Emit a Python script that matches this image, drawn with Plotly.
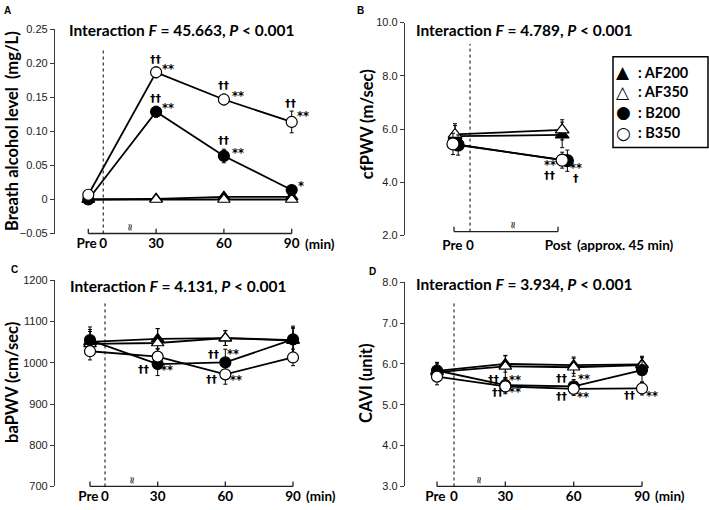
import plotly.graph_objects as go

W, H = 709, 510

# ---------------- data ----------------
SERIES = ["AF200", "AF350", "B200", "B350"]
LEGEND_GLYPHS = ["\u25B2", "\u25B3", "\u25CF", "\u25CB"]

TIME_LABELS = ["Pre", "30", "60", "90"]
TIME_X = [0, 30, 60, 90]
POST_LABELS = ["Pre", "Post"]
POST_X = [0, 1]

F_VALUES = ["45.663", "4.789", "4.131", "3.934"]
P_TEXT = "0.001"

# Panel A: breath alcohol level (mg/L)
A_AF200 = [0.000, 0.001, 0.004, 0.004]
A_AF350 = [0.000, 0.000, 0.000, 0.000]
A_B200 = [0.000, 0.129, 0.064, 0.014]
A_B350 = [0.007, 0.187, 0.147, 0.114]
A_AF200_SD = [0.002, 0.002, 0.003, 0.003]
A_AF350_SD = [0.001, 0.001, 0.001, 0.001]
A_B200_SD = [0.002, 0.008, 0.010, 0.006]
A_B350_SD = [0.003, 0.008, 0.008, 0.016]

# Panel B: cfPWV (m/sec)
B_AF200 = [5.73, 5.78]
B_AF350 = [5.80, 5.97]
B_B200 = [5.40, 4.81]
B_B350 = [5.44, 4.83]
B_AF200_SD = [0.40, 0.48]
B_AF350_SD = [0.40, 0.38]
B_B200_SD = [0.38, 0.40]
B_B350_SD = [0.40, 0.30]

# Panel C: baPWV (cm/sec)
C_AF200 = [1051, 1058, 1060, 1055]
C_AF350 = [1046, 1048, 1060, 1054]
C_B200 = [1055, 997, 1001, 1057]
C_B350 = [1028, 1015, 972, 1013]
C_AF200_SD = [30, 25, 18, 30]
C_AF350_SD = [30, 35, 18, 30]
C_B200_SD = [32, 28, 32, 32]
C_B350_SD = [21, 20, 24, 20]

# Panel D: CAVI (unit)
D_AF200 = [5.83, 6.00, 5.97, 5.99]
D_AF350 = [5.80, 5.94, 5.92, 5.97]
D_B200 = [5.84, 5.48, 5.45, 5.85]
D_B350 = [5.69, 5.45, 5.39, 5.40]
D_AF200_SD = [0.20, 0.20, 0.20, 0.20]
D_AF350_SD = [0.20, 0.27, 0.22, 0.20]
D_B200_SD = [0.20, 0.17, 0.17, 0.30]
D_B350_SD = [0.20, 0.18, 0.16, 0.16]

A_YTICKS = [-0.05, 0, 0.05, 0.10, 0.15, 0.20, 0.25]
A_YTICKTEXT = ["\u22120.05", "0", "0.05", "0.10", "0.15", "0.20", "0.25"]
B_YTICKS = [2, 4, 6, 8, 10]
B_YTICKTEXT = ["2.0", "4.0", "6.0", "8.0", "10.0"]
C_YTICKS = [700, 800, 900, 1000, 1100, 1200]
C_YTICKTEXT = ["700", "800", "900", "1000", "1100", "1200"]
D_YTICKS = [3, 4, 5, 6, 7, 8]
D_YTICKTEXT = ["3.0", "4.0", "5.0", "6.0", "7.0", "8.0"]

Y_TITLES = ["Breath alcohol level  (mg/L)", "cfPWV (m/sec)", "baPWV (cm/sec)", "CAVI (unit)"]

# ---------------- styles / layout (pixels) ----------------
STYLE = {
    "AF200": dict(symbol="triangle-up", fill="black"),
    "AF350": dict(symbol="triangle-up", fill="white"),
    "B200": dict(symbol="circle", fill="black"),
    "B350": dict(symbol="circle", fill="white"),
}
BOLD = "Lato"
TICKFONT = "Liberation Sans"

panels = [
    dict(name="A", ax="", left=55, right=345, top=24, bottom=233, p0=88.3, p1=291.7,
         xvals=TIME_X, xlabels=TIME_LABELS, zero_x=6.6, break_x=18.4, unit="(min)",
         series={"AF200": (A_AF200, A_AF200_SD), "AF350": (A_AF350, A_AF350_SD),
                 "B200": (A_B200, A_B200_SD), "B350": (A_B350, A_B350_SD)},
         yrange=[-0.05, 0.25], yticks=A_YTICKS, yticktext=A_YTICKTEXT,
         title_px=(181, 25), ytitle_px=(12, 128), letter_px=(7, 5), bracket_dy=0, msize=11),
    dict(name="B", ax="2", left=405, right=709, top=17, bottom=235, p0=454, p1=558,
         xvals=POST_X, xlabels=POST_LABELS, zero_x=0.154, break_x=0.564, unit="(approx. 45 min)",
         series={"AF200": (B_AF200, B_AF200_SD), "AF350": (B_AF350, B_AF350_SD),
                 "B200": (B_B200, B_B200_SD), "B350": (B_B350, B_B350_SD)},
         yrange=[2, 10], yticks=B_YTICKS, yticktext=B_YTICKTEXT,
         title_px=(524, 25), ytitle_px=(367, 121), letter_px=(360, 5), bracket_dy=4, msize=12),
    dict(name="C", ax="3", left=55, right=345, top=281, bottom=492, p0=90, p1=293,
         xvals=TIME_X, xlabels=TIME_LABELS, zero_x=6.65, break_x=18.2, unit="(min)",
         series={"AF200": (C_AF200, C_AF200_SD), "AF350": (C_AF350, C_AF350_SD),
                 "B200": (C_B200, C_B200_SD), "B350": (C_B350, C_B350_SD)},
         yrange=[700, 1200], yticks=C_YTICKS, yticktext=C_YTICKTEXT,
         title_px=(178, 287), ytitle_px=(12, 386), letter_px=(15, 270), bracket_dy=0, msize=11),
    dict(name="D", ax="4", left=405, right=709, top=283, bottom=492, p0=437, p1=642,
         xvals=TIME_X, xlabels=TIME_LABELS, zero_x=7.46, break_x=18.4, unit="(min)",
         series={"AF200": (D_AF200, D_AF200_SD), "AF350": (D_AF350, D_AF350_SD),
                 "B200": (D_B200, D_B200_SD), "B350": (D_B350, D_B350_SD)},
         yrange=[3, 8], yticks=D_YTICKS, yticktext=D_YTICKTEXT,
         title_px=(524, 285), ytitle_px=(366, 387), letter_px=(373, 272), bracket_dy=0, msize=11),
]

# small horizontal marker offsets in panel B (fraction of Pre->Post distance)
B_OFFSETS = {"AF200": [0.01, 0.04], "AF350": [0.01, 0.04], "B200": [0.04, 0.09], "B350": [-0.01, 0.04]}

DAG2, DAG1 = "\u2020\u2020", "\u2020"
# significance marks: (panel, series, index, text, dx px, dy px (down +))
SIG = [
    ("A", "B350", 1, DAG2, 0, -13), ("A", "B350", 1, "**", 12, -3),
    ("A", "B350", 2, DAG2, 0, -14), ("A", "B350", 2, "**", 14, -4),
    ("A", "B350", 3, DAG2, -1, -18), ("A", "B350", 3, "**", 11, -6),
    ("A", "B200", 1, DAG2, 0, -13), ("A", "B200", 1, "**", 12, -4),
    ("A", "B200", 2, DAG2, 0, -15), ("A", "B200", 2, "**", 14, -3),
    ("A", "B200", 3, "*", 9, -4),
    ("B", "B200", 1, "**", -17, 4), ("B", "B200", 1, DAG2, -17, 15),
    ("B", "B200", 1, "**", 9, 7), ("B", "B200", 1, DAG1, 9, 18),
    ("C", "B200", 1, DAG2, -14, 5), ("C", "B200", 1, "**", 9, 6),
    ("C", "B200", 2, DAG2, -11, -8), ("C", "B200", 2, "**", 8, -8),
    ("C", "B350", 2, DAG2, -13, 5), ("C", "B350", 2, "**", 11, 6),
    ("D", "B200", 1, DAG2, -11, -6), ("D", "B200", 1, "**", 10, -5),
    ("D", "B350", 1, DAG2, -7, 6), ("D", "B350", 1, "**", 10, 6),
    ("D", "B200", 2, DAG2, -12, -8), ("D", "B200", 2, "**", 10, -7),
    ("D", "B350", 2, DAG2, -12, 8), ("D", "B350", 2, "**", 9, 8),
    ("D", "B350", 3, DAG2, -12, 7), ("D", "B350", 3, "**", 10, 8),
]


def xv(pn, p):
    return (p - pn["p0"]) / (pn["p1"] - pn["p0"]) * (pn["xvals"][-1] - pn["xvals"][0]) + pn["xvals"][0]


fig = go.Figure()
layout = dict(width=W, height=H, margin=dict(l=0, r=0, t=0, b=0),
              paper_bgcolor="white", plot_bgcolor="white", showlegend=False)
shapes, annotations = [], []
pmap = {}

for i, pn in enumerate(panels):
    pmap[pn["name"]] = pn
    xa, ya = "xaxis" + pn["ax"], "yaxis" + pn["ax"]
    xr, yr = "x" + pn["ax"], "y" + pn["ax"]
    layout[xa] = dict(
        domain=[pn["left"] / W, pn["right"] / W], anchor=yr,
        range=[xv(pn, pn["left"]), xv(pn, pn["right"])],
        showline=False, showgrid=False, zeroline=False, ticks="", tickangle=0,
        tickmode="array", tickvals=[pn["xvals"][0], pn["zero_x"]] + pn["xvals"][1:],
        ticktext=[pn["xlabels"][0] + "\u00a0", "0"] + pn["xlabels"][1:],
        tickfont=dict(family=BOLD, size=13.5, color="black", weight="bold"),
        ticklabelstandoff=0,
    )
    layout[ya] = dict(
        domain=[1 - pn["bottom"] / H, 1 - pn["top"] / H], anchor=xr,
        range=pn["yrange"], showline=True, linecolor="#3a3a3a", linewidth=1.3,
        ticks="outside", ticklen=4, tickcolor="#3a3a3a", tickwidth=1.2,
        showgrid=False, zeroline=False, tickmode="array",
        tickvals=pn["yticks"], ticktext=pn["yticktext"],
        tickfont=dict(family=TICKFONT, size=11, color="#222"),
    )
    for s in SERIES:
        vals, sd = pn["series"][s]
        if pn["name"] == "B":
            xs = [x + o for x, o in zip(pn["xvals"], B_OFFSETS[s])]
        else:
            xs = pn["xvals"]
        st = STYLE[s]
        fig.add_trace(go.Scatter(
            x=xs, y=vals, xaxis=xr, yaxis=yr, mode="lines+markers", name=s,
            line=dict(color="black", width=1.8),
            marker=dict(symbol=st["symbol"], size=pn["msize"], color=st["fill"],
                        line=dict(color="black", width=1.2)),
            error_y=dict(type="data", array=sd, color="black", thickness=1, width=2),
            cliponaxis=False,
        ))
    ydom = yr + " domain"
    hpx = pn["bottom"] - pn["top"]
    b0 = pn["bracket_dy"] / hpx
    tick_h = 5 / hpx
    # bracket-style time axis
    shapes.append(dict(type="line", xref=xr, yref=ydom, x0=pn["xvals"][0], x1=pn["xvals"][-1],
                       y0=b0, y1=b0, line=dict(color="#222", width=1.3)))
    for tv in pn["xvals"]:
        shapes.append(dict(type="line", xref=xr, yref=ydom, x0=tv, x1=tv,
                           y0=b0, y1=b0 + tick_h, line=dict(color="#222", width=1.3)))
    # dotted line at time 0
    shapes.append(dict(type="line", xref=xr, yref=ydom, x0=pn["zero_x"], x1=pn["zero_x"],
                       y0=b0, y1=0.9, line=dict(color="black", width=1, dash="dot")))
    # axis break symbol
    annotations.append(dict(xref=xr, yref=ydom, x=pn["break_x"], y=b0,
                            text="\u2248", showarrow=False, textangle=-90,
                            font=dict(family="DejaVu Sans", size=10, color="black")))
    # unit text after last tick label
    annotations.append(dict(xref=xr, yref=ydom, x=pn["xvals"][-1], y=0, xanchor="left",
                            yanchor="middle", xshift=11 if pn["name"] != "B" else 17, yshift=-10,
                            text=pn["unit"], showarrow=False,
                            font=dict(family=BOLD, size=13.5, color="black", weight="bold")))
    tx, ty = pn["title_px"]
    annotations.append(dict(xref="paper", yref="paper", x=tx / W, y=1 - ty / H,
                            xanchor="center", yanchor="middle", showarrow=False,
                            text="Interaction <i>F</i> = %s, <i>P</i> &lt; %s" % (F_VALUES[i], P_TEXT),
                            font=dict(family=BOLD, size=15.5, color="black", weight="bold")))
    yx, yy = pn["ytitle_px"]
    annotations.append(dict(xref="paper", yref="paper", x=yx / W, y=1 - yy / H,
                            xanchor="center", yanchor="middle", showarrow=False, textangle=-90,
                            text=Y_TITLES[i],
                            font=dict(family=BOLD, size=16.5, color="black", weight="bold")))
    lx, ly = pn["letter_px"]
    annotations.append(dict(xref="paper", yref="paper", x=lx / W, y=1 - ly / H,
                            xanchor="center", yanchor="middle", showarrow=False, text=pn["name"],
                            font=dict(family="Liberation Sans", size=10, color="black", weight="bold")))

for pname, s, idx, txt, dx, dy in SIG:
    pn = pmap[pname]
    vals, _ = pn["series"][s]
    x = pn["xvals"][idx]
    if pname == "B":
        x = x + B_OFFSETS[s][idx]
    star = "*" in txt
    annotations.append(dict(xref="x" + pn["ax"], yref="y" + pn["ax"], x=x, y=vals[idx],
                            xshift=dx, yshift=-dy, showarrow=False, text=txt,
                            font=dict(family="DejaVu Sans", size=11.5 if star else 11,
                                      color="black", weight="bold")))

# legend box
shapes.append(dict(type="rect", xref="paper", yref="paper", x0=613 / W, x1=708 / W,
                   y0=1 - 145 / H, y1=1 - 52 / H, line=dict(color="black", width=1.5),
                   fillcolor="white", layer="above"))
leg_y = [68, 88, 109, 130]
for g, s, yy in zip(LEGEND_GLYPHS, SERIES, leg_y):
    annotations.append(dict(xref="paper", yref="paper", x=623 / W, y=1 - yy / H,
                            xanchor="center", yanchor="middle", showarrow=False, text=g,
                            font=dict(family="DejaVu Sans", size=17, color="black")))
    annotations.append(dict(xref="paper", yref="paper", x=636 / W, y=1 - yy / H,
                            xanchor="left", yanchor="middle", showarrow=False, text=": " + s,
                            font=dict(family=BOLD, size=14.5, color="black", weight="bold")))

layout["shapes"] = shapes
layout["annotations"] = annotations
fig.update_layout(**layout)
fig.write_html("out.html", config={"displayModeBar": False},
               post_script="document.body.style.margin='0';document.body.style.overflow='hidden';")
